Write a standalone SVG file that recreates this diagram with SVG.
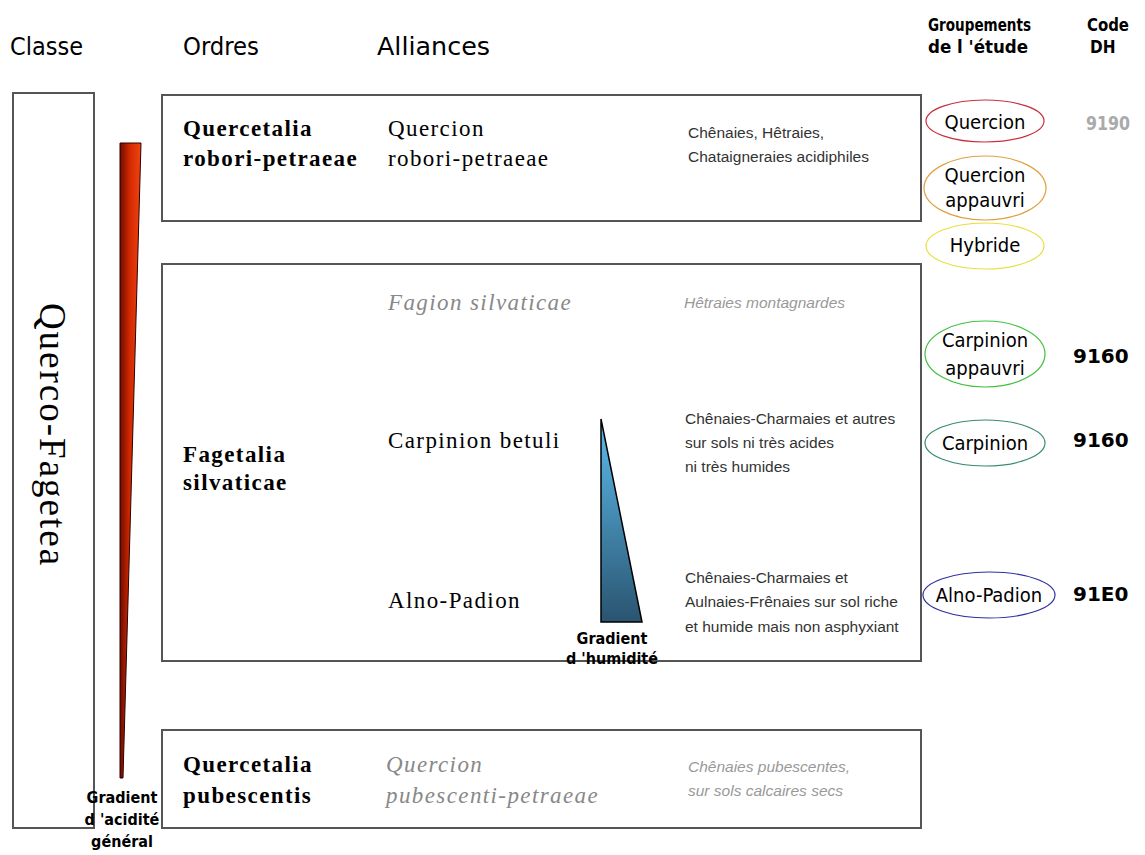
<svg xmlns="http://www.w3.org/2000/svg" width="1145" height="855" viewBox="0 0 1145 855">
<defs>
<style>
.box{fill:none;stroke:#555;stroke-width:2}
.comic{font-family:"DejaVu Sans Condensed","DejaVu Sans",sans-serif;fill:#000}
.hdr{font-size:25px}
.serif{font-family:"Liberation Serif","Times New Roman",serif;font-size:23px;letter-spacing:1.4px;fill:#000}
.big{font-size:37px;letter-spacing:2px}
.b{font-weight:bold}
.it{font-style:italic;fill:#888}
.desc{font-family:"Liberation Sans",Arial,sans-serif;font-size:15.5px;fill:#333}
.desc.it{fill:#999}
.ell{fill:none;stroke-width:1.2}
.etx{font-family:"DejaVu Sans Condensed","DejaVu Sans",sans-serif;font-size:20px;fill:#000;text-anchor:middle}
.code{font-family:"DejaVu Sans",sans-serif;font-size:20px;font-weight:bold;fill:#000}
.gray{fill:#aaa}
.glab{font-family:"DejaVu Sans Condensed","DejaVu Sans",sans-serif;font-size:16px;font-weight:bold;fill:#000;text-anchor:middle}
</style>
<linearGradient id="redg" x1="0" y1="0" x2="1" y2="0">
<stop offset="0" stop-color="#6e0c00"/>
<stop offset="0.45" stop-color="#d02800"/>
<stop offset="1" stop-color="#f24412"/>
</linearGradient>
<linearGradient id="blueg" x1="0" y1="0" x2="0" y2="1">
<stop offset="0" stop-color="#5cbcec"/>
<stop offset="1" stop-color="#2a5470"/>
</linearGradient>
</defs>
<rect width="1145" height="855" fill="#fff"/>

<g id="headers">
<text class="comic hdr" x="10" y="55">Classe</text>
<text class="comic hdr" x="183" y="55" textLength="76" lengthAdjust="spacingAndGlyphs">Ordres</text>
<text class="comic hdr" x="377" y="55" textLength="113" lengthAdjust="spacingAndGlyphs">Alliances</text>
<text class="comic b" font-size="17" x="928" y="31" textLength="103" lengthAdjust="spacingAndGlyphs">Groupements</text>
<text class="comic b" font-size="17" x="928" y="53" textLength="100" lengthAdjust="spacingAndGlyphs">de l 'étude</text>
<text class="comic b" font-size="17" x="1087" y="31" textLength="42" lengthAdjust="spacingAndGlyphs">Code</text>
<text class="comic b" font-size="17" x="1090" y="53">DH</text>
</g>

<g id="classe">
<rect class="box" x="13" y="93" width="81" height="735"/>
<text class="serif big" transform="translate(40,435) rotate(90)" text-anchor="middle">Querco-Fagetea</text>
</g>

<g id="gradient-acidite">
<polygon points="120,143 141,143 123,778 120,778" fill="url(#redg)" stroke="#2a0000" stroke-width="1"/>
<text class="glab" x="122" y="803">Gradient</text>
<text class="glab" x="122" y="825">d 'acidité</text>
<text class="glab" x="122" y="847">général</text>
</g>

<g id="quercetalia-robori">
<rect class="box" x="162" y="95" width="759" height="126"/>
<text class="serif b" x="183" y="136">Quercetalia</text>
<text class="serif b" x="183" y="166">robori-petraeae</text>
<text class="serif" x="388" y="136">Quercion</text>
<text class="serif" x="388" y="166">robori-petraeae</text>
<text class="desc" x="688" y="138">Chênaies, Hêtraies,</text>
<text class="desc" x="688" y="162">Chataigneraies acidiphiles</text>
</g>

<g id="fagetalia">
<rect class="box" x="162" y="264" width="759" height="397"/>
<text class="serif b" x="183" y="462">Fagetalia</text>
<text class="serif b" x="183" y="490">silvaticae</text>
<text class="serif it" x="388" y="310">Fagion silvaticae</text>
<text class="desc it" x="684" y="308">Hêtraies montagnardes</text>
<text class="serif" x="388" y="448">Carpinion betuli</text>
<text class="desc" x="685" y="424">Chênaies-Charmaies et autres</text>
<text class="desc" x="685" y="448">sur sols ni très acides</text>
<text class="desc" x="685" y="472">ni très humides</text>
<text class="serif" x="388" y="608">Alno-Padion</text>
<text class="desc" x="685" y="583">Chênaies-Charmaies et</text>
<text class="desc" x="685" y="607">Aulnaies-Frênaies sur sol riche</text>
<text class="desc" x="685" y="632">et humide mais non asphyxiant</text>
</g>

<g id="gradient-humidite">
<polygon points="601,419 601,622 642,622" fill="url(#blueg)" stroke="#000" stroke-width="1.5"/>
<text class="glab" x="612" y="644">Gradient</text>
<text class="glab" x="612" y="664">d 'humidité</text>
</g>

<g id="quercetalia-pubescentis">
<rect class="box" x="162" y="730" width="759" height="98"/>
<text class="serif b" x="183" y="772">Quercetalia</text>
<text class="serif b" x="183" y="803">pubescentis</text>
<text class="serif it" x="386" y="772">Quercion</text>
<text class="serif it" x="386" y="803">pubescenti-petraeae</text>
<text class="desc it" x="688" y="772">Chênaies pubescentes,</text>
<text class="desc it" x="688" y="796">sur sols calcaires secs</text>
</g>

<g id="grp-quercion">
<ellipse class="ell" cx="985" cy="121" rx="59" ry="21" stroke="#c83040"/>
<text class="etx" x="985" y="129">Quercion</text>
<text class="code gray" x="1086" y="130" textLength="44" lengthAdjust="spacingAndGlyphs">9190</text>
</g>
<g id="grp-quercion-appauvri">
<ellipse class="ell" cx="985" cy="188" rx="61" ry="32" stroke="#e0a040"/>
<text class="etx" x="985" y="182">Quercion</text>
<text class="etx" x="985" y="207">appauvri</text>
</g>
<g id="grp-hybride">
<ellipse class="ell" cx="985" cy="246" rx="59" ry="23" stroke="#e8e040"/>
<text class="etx" x="985" y="252">Hybride</text>
</g>
<g id="grp-carpinion-appauvri">
<ellipse class="ell" cx="985" cy="354" rx="60" ry="33" stroke="#40c040"/>
<text class="etx" x="985" y="347">Carpinion</text>
<text class="etx" x="985" y="375">appauvri</text>
<text class="code" x="1073" y="363">9160</text>
</g>
<g id="grp-carpinion">
<ellipse class="ell" cx="985" cy="443" rx="60" ry="23" stroke="#3a8a70"/>
<text class="etx" x="985" y="450">Carpinion</text>
<text class="code" x="1073" y="447">9160</text>
</g>
<g id="grp-alno-padion">
<ellipse class="ell" cx="989" cy="595" rx="66" ry="23" stroke="#3030a0"/>
<text class="etx" x="989" y="602">Alno-Padion</text>
<text class="code" x="1073" y="601">91E0</text>
</g>

<g id="connectors"/>
</svg>
